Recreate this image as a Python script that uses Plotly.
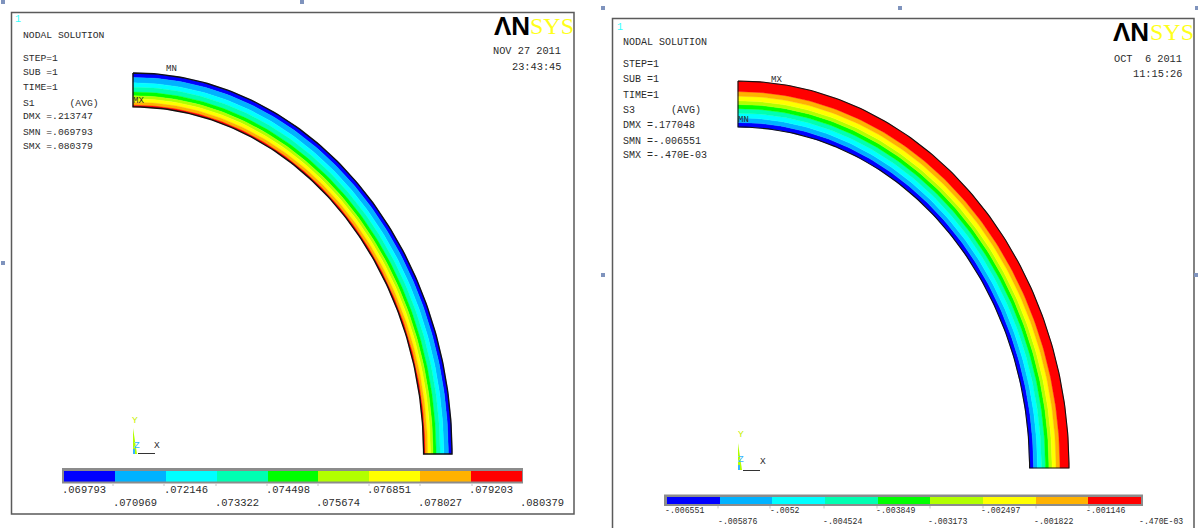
import numpy as np
import plotly.graph_objects as go

W, H = 1198, 528
BAND_COLORS = ["#0000ff", "#00b2ff", "#00ffff", "#00ffb2", "#00ff00", "#b2ff00", "#ffff00", "#ffb200", "#ff0000"]

# Contour levels and their printed labels
s1_levels = [.069793, .070969, .072146, .073322, .074498, .075674, .076851, .078027, .079203, .080379]
s1_labels = [".069793", ".070969", ".072146", ".073322", ".074498", ".075674", ".076851", ".078027", ".079203", ".080379"]
s3_levels = [-.006551, -.005876, -.0052, -.004524, -.003849, -.003173, -.002497, -.001822, -.001146, -.00047]
s3_labels = ["-.006551", "-.005876", "-.0052", "-.004524", "-.003849", "-.003173", "-.002497", "-.001822", "-.001146", "-.470E-03"]

# Radial positions of the band edges through the wall, blue band first
# (s1: blue is on the outer edge; s3: blue is on the inner edge). 0 = blue side, 1 = red side.
s1_edges = [0, .13, .29, .42, .56, .67, .76, .86, .95, 1]
s3_edges = [0, .10, .20, .30, .40, .49, .57, .67, .77, 1]
s1_inner_radius = 0.911
s3_inner_radius = 0.881

s1_info = ["STEP=1", "SUB =1", "TIME=1", "S1      (AVG)", "DMX =.213747", "SMN =.069793", "SMX =.080379"]
s3_info = ["STEP=1", "SUB =1", "TIME=1", "S3      (AVG)", "DMX =.177048", "SMN =-.006551", "SMX =-.470E-03"]

MONO = "Liberation Mono"
INK = "#2b2b2b"


def px(x):
    return x / W


def py(y):
    return 1 - y / H


def axis_range(p0, p1, size):
    """Value of a full-canvas axis at pixel 0 and at pixel `size`, when data 0 sits at p0 and data 1 at p1."""
    return [(0 - p0) / (p1 - p0), (size - p0) / (p1 - p0)]


fig = go.Figure()
angles = np.radians(np.linspace(0, 90, 121))


def arc(radius):
    return radius * np.sin(angles), radius * np.cos(angles)


def add_model(radii, inner, axes, outline):
    xa, ya = axes
    for i, color in enumerate(BAND_COLORS):
        xo, yo = arc(radii[i])
        xi, yi = arc(radii[i + 1])
        fig.add_trace(go.Scatter(
            x=np.r_[xo, xi[::-1], xo[0]], y=np.r_[yo, yi[::-1], yo[0]],
            mode="lines", fill="toself", fillcolor=color,
            line=dict(color=color, width=0.4), xaxis=xa, yaxis=ya, hoverinfo="skip"))
    xo, yo = arc(1.0)
    xi, yi = arc(inner)
    fig.add_trace(go.Scatter(
        x=np.r_[xo, xi[::-1], xo[0]], y=np.r_[yo, yi[::-1], yo[0]],
        mode="lines", line=dict(color="#111111", width=outline), xaxis=xa, yaxis=ya, hoverinfo="skip"))


add_model([1 - e * (1 - s1_inner_radius) for e in s1_edges], s1_inner_radius, ("x", "y"), 1.4)
add_model([s3_inner_radius + e * (1 - s3_inner_radius) for e in s3_edges], s3_inner_radius, ("x2", "y2"), 1.1)


def add_bar(levels, axes):
    xa, ya = axes
    fig.add_trace(go.Bar(
        y=[0] * 9, base=levels[:-1], x=list(np.diff(levels)), orientation="h",
        marker=dict(color=BAND_COLORS, line=dict(width=0)), width=1,
        xaxis=xa, yaxis=ya, hoverinfo="skip"))


add_bar(s1_levels, ("x3", "y3"))
add_bar(s3_levels, ("x4", "y4"))

hidden = dict(visible=False, fixedrange=True)
fig.update_layout(
    width=W, height=H, margin=dict(l=0, r=0, t=0, b=0),
    paper_bgcolor="white", plot_bgcolor="rgba(0,0,0,0)", showlegend=False, barmode="overlay", bargap=0,
    xaxis=dict(domain=[0, 1], range=axis_range(133, 452, W), **hidden),
    yaxis=dict(domain=[0, 1], range=axis_range(454, 73, H)[::-1], **hidden),
    xaxis2=dict(domain=[0, 1], range=axis_range(738, 1069, W), anchor="y2", **hidden),
    yaxis2=dict(domain=[0, 1], range=axis_range(468, 81, H)[::-1], anchor="x2", **hidden),
    xaxis3=dict(domain=[px(64), px(522)], range=[s1_levels[0], s1_levels[-1]], anchor="y3", **hidden),
    yaxis3=dict(domain=[py(481.5), py(470.5)], range=[-.5, .5], anchor="x3", **hidden),
    xaxis4=dict(domain=[px(667), px(1141)], range=[s3_levels[0], s3_levels[-1]], anchor="y4", **hidden),
    yaxis4=dict(domain=[py(504), py(496.5)], range=[-.5, .5], anchor="x4", **hidden),
)

shapes = []
annotations = []


def rect(x0, y0, x1, y1, fill=None, line=None, lw=0, layer="below"):
    shapes.append(dict(type="rect", xref="paper", yref="paper", x0=px(x0), x1=px(x1), y0=py(y0), y1=py(y1),
                       fillcolor=fill or "rgba(0,0,0,0)", line=dict(color=line or "rgba(0,0,0,0)", width=lw), layer=layer))


def seg(x0, y0, x1, y1, color, lw, layer="above"):
    shapes.append(dict(type="line", xref="paper", yref="paper", x0=px(x0), x1=px(x1), y0=py(y0), y1=py(y1),
                       line=dict(color=color, width=lw), layer=layer))


def text(x, y, s, size=10, color=INK, anchor="left", family=MONO, xref="paper", xshift=0):
    annotations.append(dict(x=px(x) if xref == "paper" else x, y=py(y), xref=xref, yref="paper", text=s.replace(" ", "\u00a0"),
                            showarrow=False, xanchor=anchor, yanchor="middle", xshift=xshift,
                            font=dict(family=family, size=size, color=color), borderpad=0, borderwidth=0))


# Panel frames
rect(11.5, 12.5, 574, 514, line="#5a5a5a", lw=1.5)
rect(612.5, 18.5, 1194, 560, line="#5a5a5a", lw=1.5)
# Colour-bar frames
rect(62, 468, 523, 483.5, fill="#8c8c8c")
rect(664, 494.5, 1143, 506, fill="#8c8c8c")
# Ticks beneath the colour bars
for x in [113, 164, 216, 267, 318, 369, 420, 472]:
    seg(x, 483.5, x, 486, "#c8c8c8", 1, "below")
for x in [718, 770, 824, 877, 930, 983, 1036, 1089]:
    seg(x, 506, x, 508.5, "#c8c8c8", 1, "below")

# Selection handles left over in the source picture
for hx, hy in [(3, 2), (302, 2), (3, 263), (603, 8), (900, 8), (1197, 8), (603, 275), (1196, 275)]:
    rect(hx - 2, hy - 2, hx + 2, hy + 2, fill="#7f93bd", layer="below")

# Triads
shapes.append(dict(type="path", xref="paper", yref="paper", layer="above", line=dict(width=0), fillcolor="#b2ff00",
                   path=f"M {px(133)} {py(428)} L {px(137)} {py(454)} L {px(133)} {py(454)} Z"))
rect(133, 449, 135, 454, fill="#33b5ff", layer="above")
seg(138, 453.5, 155, 453.5, "#333333", 1)
shapes.append(dict(type="path", xref="paper", yref="paper", layer="above", line=dict(width=0), fillcolor="#b2ff00",
                   path=f"M {px(738)} {py(443)} L {px(742)} {py(470)} L {px(738)} {py(470)} Z"))
rect(738, 465, 740, 470, fill="#33b5ff", layer="above")
seg(743, 470.5, 760, 470.5, "#333333", 1)

# Left panel text
text(15, 20, "1", 10, "#33ffff")
text(23, 35, "NODAL SOLUTION", 9.7)
for y, s in zip([58, 73, 88, 103, 117, 132, 147], s1_info):
    text(23, y, s, 9.7)
text(166, 69, "MN", 9)
text(133, 101, "MX", 9)
text(561, 51, "NOV 27 2011", 10.3, anchor="right")
text(561, 67, "23:43:45", 10.3, anchor="right")
text(494, 26, "<b>\u039bN</b>", 26, "#000000", family="Liberation Sans")
text(530, 26, "SYS", 24, "#ffff1a", family="Liberation Serif")
text(132, 420, "Y", 9.5, "#c6f000")
text(134, 445, "Z", 9.5, "#33b5ff")
text(154, 445, "X", 9.5)

# Right panel text
text(617, 27, "1", 10, "#33ffff")
text(623, 42, "NODAL SOLUTION", 10)
for y, s in zip([65, 80, 95, 110, 125, 141, 156], s3_info):
    text(623, y, s, 10)
text(771, 80, "MX", 9)
text(738, 120, "MN", 9)
text(1182, 59, "OCT  6 2011", 10.3, anchor="right")
text(1182, 74, "11:15:26", 10.3, anchor="right")
text(1113, 32, "<b>\u039bN</b>", 26, "#000000", family="Liberation Sans")
text(1150, 32, "SYS", 24, "#ffff1a", family="Liberation Serif")
text(738, 434, "Y", 9.5, "#c6f000")
text(738, 459, "Z", 9.5, "#33b5ff")
text(760, 461, "X", 9.5)

# Colour-bar labels, placed on the bar's own value axis
for i, (v, s) in enumerate(zip(s1_levels, s1_labels)):
    text(v, 490 if i % 2 == 0 else 503, s, 10.5, xref="x3", xshift=-2)
for i, (v, s) in enumerate(zip(s3_levels, s3_labels)):
    text(v, 510 if i % 2 == 0 else 521.5, s, 8.2, xref="x4", xshift=-2)

fig.update_layout(shapes=shapes, annotations=annotations)
fig.write_html("out.html", config=dict(displayModeBar=False),
               post_script="document.body.style.margin='0';document.body.style.overflow='hidden';")
